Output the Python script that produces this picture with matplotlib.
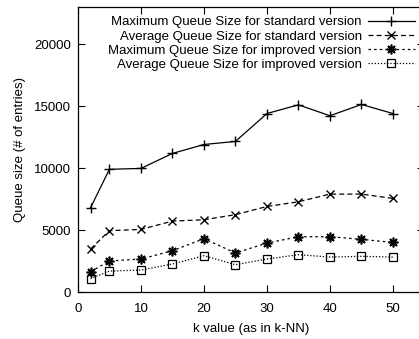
import matplotlib
matplotlib.use('Agg')
import matplotlib.pyplot as plt

plt.rcParams['font.family'] = ['Liberation Sans', 'DejaVu Sans']

# k values and queue sizes
k = [2, 5, 10, 15, 20, 25, 30, 35, 40, 45, 50]
max_std = [6800, 9900, 9970, 11180, 11900, 12150, 14400, 15100, 14220, 15130, 14400]
avg_std = [3470, 4950, 5050, 5720, 5830, 6240, 6900, 7280, 7900, 7900, 7550]
max_imp = [1640, 2500, 2660, 3330, 4300, 3150, 3950, 4460, 4460, 4250, 4000]
avg_imp = [1080, 1690, 1770, 2260, 2930, 2200, 2660, 3010, 2820, 2880, 2820]

labels = ['Maximum Queue Size for standard version',
          'Average Queue Size for standard version',
          'Maximum Queue Size for improved version',
          'Average Queue Size for improved version']

fig = plt.figure(figsize=(4.19, 3.39), dpi=100)
ax = fig.add_axes([0.186, 0.1386, 0.827, 0.841])

lw = 0.9
ax.plot(k, max_std, color='black', lw=lw, ls='-', marker='+', ms=7, mew=1.0, label=labels[0])
ax.plot(k, avg_std, color='black', lw=lw, ls=(0, (4, 2.5)), marker='x', ms=6, mew=1.0, label=labels[1])
ax.plot(k, max_imp, color='black', lw=lw, ls=(0, (2, 2.5)), marker=(8, 2, 0), ms=7, mew=1.2, label=labels[2])
ax.plot(k, avg_imp, color='black', lw=lw, ls=(0, (1, 1.5)), marker='s', ms=6, mew=0.9,
        mfc='none', label=labels[3])

ax.set_xlim(0, 55)
ax.set_ylim(0, 23000)
ax.set_xticks([0, 10, 20, 30, 40, 50])
ax.set_yticks([0, 5000, 10000, 15000, 20000])
ax.tick_params(direction='in', top=True, right=True, length=5, width=0.8,
               labelsize=9.5, pad=5)
ax.tick_params(axis='x', pad=8)
for s in ax.spines.values():
    s.set_linewidth(0.9)

ax.set_xlabel('k value (as in k-NN)', fontsize=9.5, labelpad=6)
ax.set_ylabel('Queue size (# of entries)', fontsize=9.5, labelpad=6)

leg = ax.legend(loc='upper right', bbox_to_anchor=(0.998, 1.0), frameon=False,
                markerfirst=False, fontsize=9.5, handlelength=3.5,
                handletextpad=0.5, labelspacing=0.15, borderaxespad=0.3)

plt.savefig('out.png', dpi=100)
